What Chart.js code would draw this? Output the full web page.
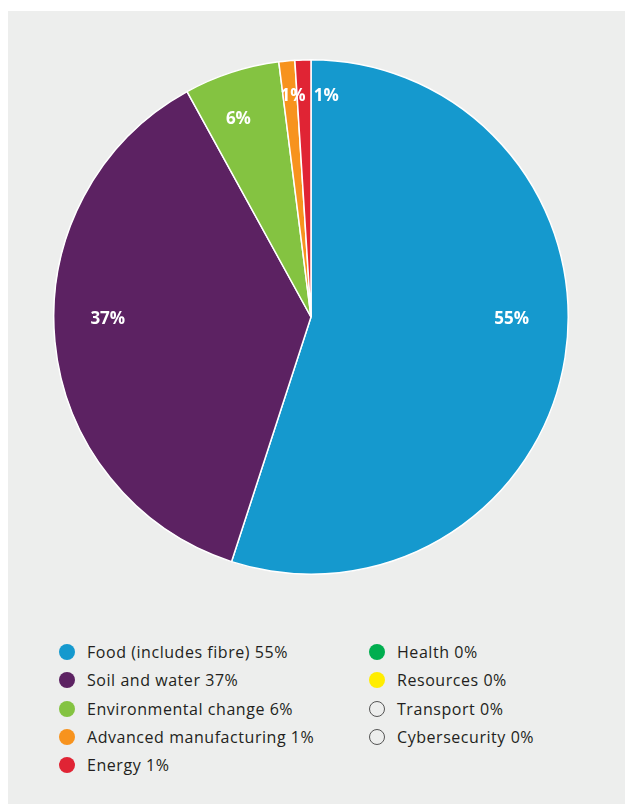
<!DOCTYPE html>
<html>
<head>
<meta charset="utf-8">
<script src="https://cdn.jsdelivr.net/npm/chart.js@4.4.0/dist/chart.umd.min.js"></script>
<style>
  body { margin: 0; background: #fff; width: 625px; height: 804px; overflow: hidden; position: relative; }
  #panel { position: absolute; left: 8px; top: 11px; width: 617px; height: 793px; background: #edeeed; }
  #pie { position: absolute; left: 53px; top: 59px; }
  #legend { position: absolute; left: 0; top: 0; font-family: "Open Sans", sans-serif; font-size: 16px; letter-spacing: 0.55px; color: #231f20; }
  .item { position: absolute; white-space: nowrap; line-height: 20px; }
  .dot { position: absolute; left: -28px; top: 2px; width: 16px; height: 16px; border-radius: 50%; box-sizing: border-box; }
</style>
</head>
<body>
<div id="panel"></div>
<canvas id="pie" width="516" height="516"></canvas>
<div id="legend"></div>
<script>
// Reparto por área de investigación (%)
const categories = ['Food (includes fibre)', 'Soil and water', 'Environmental change', 'Advanced manufacturing', 'Energy', 'Health', 'Resources', 'Transport', 'Cybersecurity'];
const shares = [55, 37, 6, 1, 1, 0, 0, 0, 0];
const colours = ['#1599ce', '#5c2262', '#84c341', '#f7931e', '#e02434', '#00ae4f', '#ffed00', null, null];

// Etiquetas dentro del pastel: ángulo (grados desde arriba, sentido horario) y radio relativo
const labelAngles = [90, 270, -20, -4.6, 3.9];
const labelRadius = [0.78, 0.79, 0.825, 0.868, 0.868];

const sliceLabels = {
    id: 'sliceLabels',
    afterDatasetsDraw(chart) {
        const ctx = chart.ctx;
        const meta = chart.getDatasetMeta(0);
        ctx.save();
        ctx.fillStyle = '#fff';
        ctx.font = 'bold 17px "Open Sans", sans-serif';
        ctx.textAlign = 'center';
        ctx.textBaseline = 'middle';
        meta.data.forEach((arc, i) => {
            if (!shares[i]) return;
            const a = labelAngles[i] * Math.PI / 180 - Math.PI / 2;
            const r = arc.outerRadius * labelRadius[i];
            ctx.fillText(shares[i] + '%', arc.x + Math.cos(a) * r, arc.y + Math.sin(a) * r + 2);
        });
        ctx.restore();
    }
};

const ctx = document.getElementById('pie').getContext('2d');
const myChart = new Chart(ctx, {
    type: 'pie',
    data: {
        labels: categories,
        datasets: [{
            data: shares,
            backgroundColor: colours.map(c => c || '#edeeed'),
            borderColor: '#ffffff',
            borderWidth: 1.5
        }]
    },
    options: {
        responsive: false,
        animation: false,
        layout: { padding: 0 },
        plugins: {
            legend: { display: false },
            tooltip: { enabled: false }
        }
    },
    plugins: [sliceLabels]
});

// Leyenda en dos columnas
const legend = document.getElementById('legend');
categories.forEach((name, i) => {
    const col = i < 5 ? 0 : 1;
    const row = i < 5 ? i : i - 5;
    const item = document.createElement('div');
    item.className = 'item';
    item.style.left = (col === 0 ? 87 : 397) + 'px';
    item.style.top = (642 + row * 28.3) + 'px';
    const dot = document.createElement('span');
    dot.className = 'dot';
    if (colours[i]) {
        dot.style.background = colours[i];
    } else {
        dot.style.border = '1.3px solid #555';
    }
    item.appendChild(dot);
    item.appendChild(document.createTextNode(name + ' ' + shares[i] + '%'));
    legend.appendChild(item);
});
</script>
</body>
</html>
